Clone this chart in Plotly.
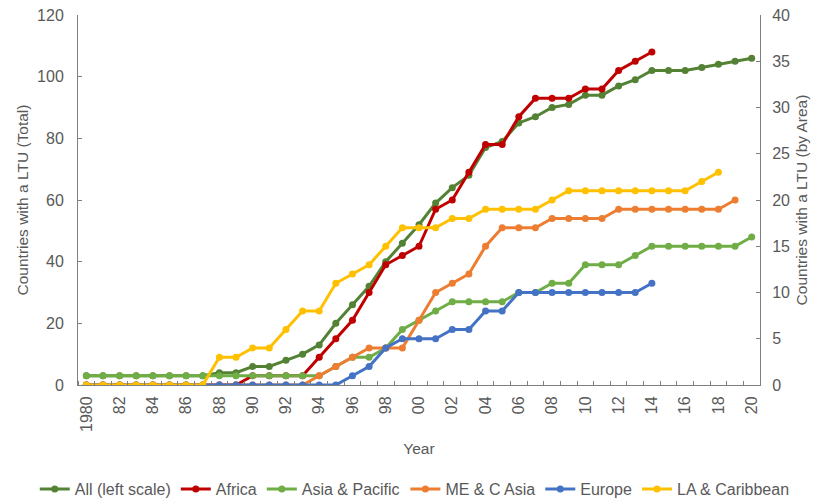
import plotly.graph_objects as go

years = list(range(1980, 2021))

all_total = [3, 3, 3, 3, 3, 3, 3, 3, 4, 4, 6, 6, 8, 10, 13, 20, 26, 32, 40, 46,
             52, 59, 64, 68, 77, 79, 85, 87, 90, 91, 94, 94, 97, 99, 102, 102,
             102, 103, 104, 105, 106]
africa = [0, 0, 0, 0, 0, 0, 0, 0, 0, 0, 1, 1, 1, 1, 3, 5, 7, 10, 13, 14,
          15, 19, 20, 23, 26, 26, 29, 31, 31, 31, 32, 32, 34, 35, 36]
asia_pacific = [1, 1, 1, 1, 1, 1, 1, 1, 1, 1, 1, 1, 1, 1, 1, 2, 3, 3, 4, 6,
                7, 8, 9, 9, 9, 9, 10, 10, 11, 11, 13, 13, 13, 14, 15, 15,
                15, 15, 15, 15, 16]
me_c_asia = [0, 0, 0, 0, 0, 0, 0, 0, 0, 0, 0, 0, 0, 0, 1, 2, 3, 4, 4, 4,
             7, 10, 11, 12, 15, 17, 17, 17, 18, 18, 18, 18, 19, 19, 19, 19,
             19, 19, 19, 20]
europe = [0, 0, 0, 0, 0, 0, 0, 0, 0, 0, 0, 0, 0, 0, 0, 0, 1, 2, 4, 5,
          5, 5, 6, 6, 8, 8, 10, 10, 10, 10, 10, 10, 10, 10, 11]
la_caribbean = [0, 0, 0, 0, 0, 0, 0, 0, 3, 3, 4, 4, 6, 8, 8, 11, 12, 13, 15, 17,
                17, 17, 18, 18, 19, 19, 19, 19, 20, 21, 21, 21, 21, 21, 21, 21,
                21, 22, 23]

tick_years = list(range(1980, 2021, 2))
tick_labels = ["1980"] + [f"{y % 100:02d}" for y in tick_years[1:]]

series = [
    ("All (left scale)", all_total, "#548235", "y", "legend"),
    ("Africa", africa, "#C00000", "y2", "legend"),
    ("Asia & Pacific", asia_pacific, "#70AD47", "y2", "legend"),
    ("ME & C Asia", me_c_asia, "#ED7D31", "y2", "legend2"),
    ("Europe", europe, "#4472C4", "y2", "legend2"),
    ("LA & Caribbean", la_caribbean, "#FFC000", "y2", "legend2"),
]

fig = go.Figure()
for name, vals, color, ax, lg in series:
    fig.add_trace(go.Scatter(
        x=years[:len(vals)], y=vals, name=name, yaxis=ax, legend=lg,
        mode="lines+markers",
        line=dict(color=color, width=3),
        marker=dict(color=color, size=7),
    ))

txt = "#595959"
axcol = "#7F7F7F"
font = "Liberation Sans, Arial, sans-serif"

leg_common = dict(orientation="h", xref="container", yref="container",
                  xanchor="left", y=0.022, yanchor="middle",
                  font=dict(size=16, color=txt), itemwidth=30, tracegroupgap=0,
                  bgcolor="rgba(0,0,0,0)")

fig.update_layout(
    width=811, height=492,
    margin=dict(l=70, r=59, t=7, b=115, autoexpand=False),
    paper_bgcolor="white", plot_bgcolor="white",
    font=dict(family=font, size=16, color=txt),
    showlegend=True,
    legend=dict(x=0.033, **leg_common),
    legend2=dict(x=0.49, **leg_common),
    xaxis=dict(
        range=[1979.5, 2020.5], showgrid=False, zeroline=False,
        showline=True, linecolor=axcol, linewidth=1,
        tickmode="array", tickvals=tick_years, ticktext=tick_labels,
        tickangle=-90, ticks="", ticklabelstandoff=4,
        tickfont=dict(size=16, color=txt),
        minor=dict(tickvals=[y + 0.5 for y in range(1979, 2021)], ticks="inside",
                   ticklen=4, tickcolor=axcol, showgrid=False),
        title=dict(text="Year", font=dict(size=15.5, color=txt), standoff=12),
    ),
    yaxis=dict(
        range=[0, 120], dtick=20, showgrid=False, zeroline=False,
        showline=True, linecolor=axcol, linewidth=1,
        ticks="inside", ticklen=4, tickcolor=axcol, ticklabelstandoff=10,
        ticklabeloverflow="allow",
        tickfont=dict(size=16, color=txt),
        title=dict(text="Countries with a LTU (Total)", font=dict(size=15.5, color=txt), standoff=4),
    ),
    yaxis2=dict(
        range=[0, 40], dtick=5, overlaying="y", side="right",
        showgrid=False, zeroline=False,
        showline=True, linecolor=axcol, linewidth=1,
        ticks="inside", ticklen=4, tickcolor=axcol, ticklabelstandoff=8,
        ticklabeloverflow="allow",
        tickfont=dict(size=16, color=txt),
        title=dict(text="Countries with a LTU (by Area)", font=dict(size=15.5, color=txt), standoff=7),
    ),
)

fig.write_html("out.html")
